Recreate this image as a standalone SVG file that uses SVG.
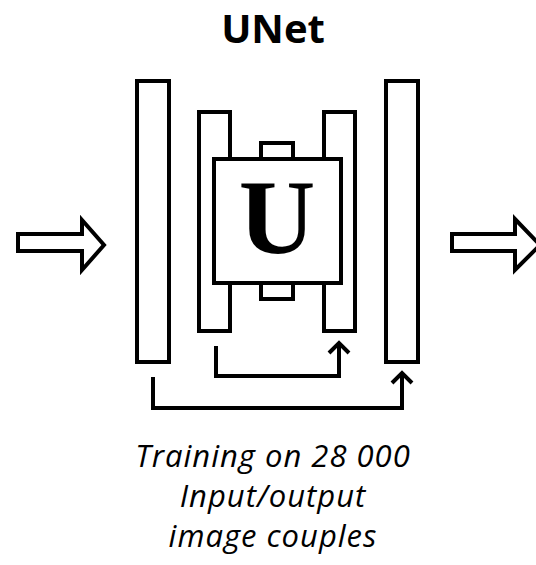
<svg xmlns="http://www.w3.org/2000/svg" width="536" height="565" viewBox="0 0 536 565">
<style>
.box{fill:#fff;stroke:#000;stroke-width:4}
.ln{fill:none;stroke:#000;stroke-width:4;stroke-linejoin:miter}
.title{font-family:"Open Sans","Liberation Sans",sans-serif;font-weight:bold;font-size:40px;fill:#000}
.cap{font-family:"Open Sans","Liberation Sans",sans-serif;font-style:italic;font-size:31px;letter-spacing:1px;fill:#000}
</style>
<rect width="536" height="565" fill="#fff"/>
<text class="title" x="273" y="43" text-anchor="middle">UNet</text>
<g id="input-arrow"><polygon class="box" points="18,234 82,234 82,220 104,245 82,270 82,251 18,251"/></g>
<g id="output-arrow"><polygon class="box" points="452,234 515,234 515,219 540,245 515,270 515,251 452,251"/></g>
<g id="enc1"><rect class="box" x="137" y="81" width="32" height="281"/></g>
<g id="dec1"><rect class="box" x="386" y="81" width="32" height="281"/></g>
<g id="enc2"><rect class="box" x="199" y="112" width="31" height="219"/></g>
<g id="dec2"><rect class="box" x="324" y="112" width="31" height="219"/></g>
<g id="top-tab"><rect class="box" x="261" y="143" width="32" height="16"/></g>
<g id="bottom-tab"><rect class="box" x="261" y="283" width="32" height="16"/></g>
<g id="core"><rect class="box" x="214" y="159" width="127" height="124"/>
<text x="277" y="253" text-anchor="middle" font-family="Liberation Serif,serif" font-weight="bold" font-size="106">U</text></g>
<g id="connectors">
<polyline class="ln" points="216,346 216,376 339,376 339,344"/>
<polyline class="ln" points="329,353 339,343 349,353"/>
<polyline class="ln" points="153,377 153,408 402,408 402,374"/>
<polyline class="ln" points="392,383 402,373 412,383"/>
</g>
<text class="cap" text-anchor="middle" x="273" y="467">Training on 28 000</text>
<text class="cap" text-anchor="middle" x="273" y="507">Input/output</text>
<text class="cap" text-anchor="middle" x="273" y="547">image couples</text>
</svg>
